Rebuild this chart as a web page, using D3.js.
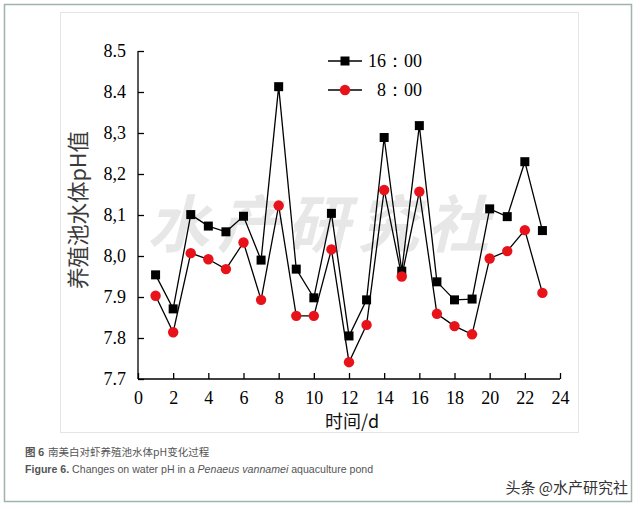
<!DOCTYPE html>
<html><head><meta charset="utf-8">
<script src="https://cdn.jsdelivr.net/npm/d3@7"></script>
<style>body{margin:0;background:#fff}svg{display:block}</style>
</head><body>
<svg id="c" width="640" height="510"></svg>
<script>
const days = [1,2,3,4,5,6,7,8,9,10,11,12,13,14,15,16,17,18,19,20,21,22,23];
const ph1600 = [7.954,7.871,8.101,8.073,8.059,8.097,7.990,8.413,7.968,7.898,8.104,7.805,7.893,8.289,7.963,8.318,7.937,7.893,7.895,8.115,8.096,8.230,8.062];
const ph0800 = [7.903,7.814,8.007,7.992,7.968,8.033,7.893,8.123,7.854,7.854,8.016,7.741,7.832,8.161,7.950,8.157,7.859,7.829,7.809,7.994,8.012,8.063,7.910];
const xTicks = [0,2,4,6,8,10,12,14,16,18,20,22,24];
const yTicks = [7.7,7.8,7.9,8.0,8.1,8.2,8.3,8.4,8.5];
const yTickLabels = ["7.7","7.8","7.9","8,0","8,1","8,2","8,3","8.4","8.5"];
const seriesNames = ["16：00","8：00"];

const svg = d3.select("#c");
// frames
svg.append("rect").attr("x",4.5).attr("y",4.5).attr("width",627).attr("height",497)
  .attr("fill","none").attr("stroke","#9fb5aa").attr("stroke-width",1.5);
svg.append("rect").attr("x",60.5).attr("y",12.5).attr("width",518).attr("height",420)
  .attr("fill","none").attr("stroke","#e4e6e5").attr("stroke-width",1);

const x = d3.scaleLinear().domain([0,24]).range([138,560]);
const y = d3.scaleLinear().domain([7.7,8.5]).range([379,51]);

// watermark
svg.append("text").attr("x",322).attr("y",247).attr("text-anchor","middle")
  .attr("font-family","Noto Sans CJK SC").attr("font-weight",700).attr("font-size",62)
  .attr("font-style","italic").attr("letter-spacing",8)
  .attr("fill","#c4c4c4").attr("fill-opacity",0.4).text("水产研究社");

const serif = "'Liberation Serif','Times New Roman',serif";
const xAxis = svg.append("g").attr("transform","translate(0,379)")
  .call(d3.axisBottom(x).tickValues(xTicks).tickSize(-6).tickPadding(9).tickFormat(d3.format("d")));
const yAxis = svg.append("g").attr("transform","translate(138,0)")
  .call(d3.axisLeft(y).tickValues(yTicks).tickSize(-6).tickPadding(12).tickFormat((d,i)=>yTickLabels[i]));
[xAxis,yAxis].forEach(a=>{
  a.selectAll("path.domain").attr("stroke","#000").attr("stroke-width",1.3);
  a.selectAll(".tick line").attr("stroke","#000").attr("stroke-width",1.3);
  a.selectAll("text").attr("font-family",serif).attr("font-size",18).attr("fill","#000");
});
xAxis.select("path.domain").attr("d","M138,0H560");
yAxis.select("path.domain").attr("d","M0,51V379");
xAxis.selectAll("text").attr("dy","0.9em");

// axis titles
svg.append("text").attr("x",352).attr("y",428).attr("text-anchor","middle")
  .attr("font-family","'Noto Sans CJK SC'").attr("font-size",18).attr("fill","#111")
  .text("时间/d");
svg.append("text").attr("transform","translate(86,210) rotate(-90)").attr("text-anchor","middle")
  .attr("font-family","'Noto Sans CJK SC'").attr("font-size",21.5).attr("fill","#3a3a3a")
  .text("养殖池水体pH值");

const line = d3.line().x((d,i)=>x(days[i])).y(d=>y(d));
svg.append("path").datum(ph0800).attr("d",line).attr("fill","none").attr("stroke","#000").attr("stroke-width",1.3);
svg.append("path").datum(ph1600).attr("d",line).attr("fill","none").attr("stroke","#000").attr("stroke-width",1.3);
svg.selectAll("rect.sq").data(ph1600).enter().append("rect").attr("class","sq")
  .attr("x",(d,i)=>x(days[i])-4.5).attr("y",d=>y(d)-4.5).attr("width",9).attr("height",9).attr("fill","#000");
svg.selectAll("circle.ci").data(ph0800).enter().append("circle").attr("class","ci")
  .attr("cx",(d,i)=>x(days[i])).attr("cy",d=>y(d)).attr("r",5.2).attr("fill","#e8121a");

// legend
const lg = svg.append("g");
[[61,"sq"],[90,"ci"]].forEach(([ly,k],i)=>{
  lg.append("line").attr("x1",328).attr("x2",362).attr("y1",ly).attr("y2",ly).attr("stroke","#000").attr("stroke-width",1.3);
  if(k==="sq") lg.append("rect").attr("x",340.5).attr("y",ly-4.5).attr("width",9).attr("height",9).attr("fill","#000");
  else lg.append("circle").attr("cx",345).attr("cy",ly).attr("r",5.2).attr("fill","#e8121a");
  lg.append("text").attr("x",i===0?368:377).attr("y",ly+6).attr("font-family",serif).attr("font-size",18)
    .attr("fill","#000").text(seriesNames[i]);
});

// captions
svg.append("text").attr("x",25).attr("y",456).attr("font-family","'Noto Sans CJK SC'").attr("font-size",10.5)
  .attr("fill","#555").html("<tspan font-weight='bold'>图 6</tspan><tspan dx='4'>南美白对虾养殖池水体pH变化过程</tspan>");
svg.append("text").attr("x",25).attr("y",473).attr("font-family","'Liberation Sans',Arial,sans-serif").attr("font-size",10.6)
  .attr("fill","#555").html("<tspan font-weight='bold'>Figure 6.</tspan> Changes on water pH in a <tspan font-style='italic'>Penaeus vannamei</tspan> aquaculture pond");
svg.append("text").attr("x",628).attr("y",493).attr("text-anchor","end").attr("font-family","'Noto Sans CJK SC'")
  .attr("font-size",15).attr("fill","#333").text("头条 @水产研究社");
</script>
</body></html>
